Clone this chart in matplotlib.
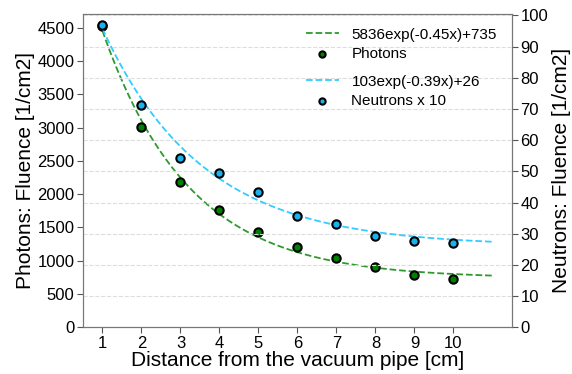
import numpy as np
import matplotlib.pyplot as plt

plt.rcParams['font.family'] = ['Liberation Sans', 'DejaVu Sans']

# --- Data ---
distance = [1, 2, 3, 4, 5, 6, 7, 8, 9, 10]
photons = [4530, 3010, 2190, 1760, 1425, 1200, 1040, 910, 780, 720]
neutrons_x10 = [97.0, 71.2, 54.3, 49.6, 43.4, 35.7, 33.2, 29.3, 27.7, 27.0]

# fit coefficients as printed in the legend: a*exp(-b*x)+c
ph_fit = (5836, 0.45, 735)
ne_fit = (103, 0.39, 26)

xs = np.linspace(1, 11, 200)
ph_curve = ph_fit[0] * np.exp(-ph_fit[1] * xs) + ph_fit[2]
ne_curve = ne_fit[0] * np.exp(-ne_fit[1] * xs) + ne_fit[2]

fig, ax1 = plt.subplots(figsize=(5.72, 3.74), dpi=100)
ax2 = ax1.twinx()

l1, = ax1.plot(xs, ph_curve, ls="--", color="#2e9a2e", lw=1.3,
               label="5836exp(-0.45x)+735")
s1 = ax1.scatter(distance, photons, s=36, color="green", edgecolor="black",
                 linewidth=1.5, zorder=3, label="Photons")
l2, = ax2.plot(xs, ne_curve, ls="--", color="#33ccff", lw=1.3,
               label="103exp(-0.39x)+26")
s2 = ax2.scatter(distance, neutrons_x10, s=36, color="#1ab2ee", edgecolor="black",
                 linewidth=1.5, zorder=3, label="Neutrons x 10")

ax1.set_xlim(0.5, 11.5)
ax1.set_ylim(0, 4710)
ax2.set_ylim(0, 100.5)
ax1.set_xticks(distance)
ax1.set_yticks(np.arange(0, 4501, 500))
ax2.set_yticks(np.arange(0, 101, 10))
ax2.grid(axis="y", ls="--", color="#dddddd", lw=0.8)

ax1.set_xlabel("Distance from the vacuum pipe [cm]", fontsize=15, labelpad=0)
ax1.set_ylabel("Photons: Fluence [1/cm2]", fontsize=15, labelpad=2)
ax2.set_ylabel("Neutrons: Fluence [1/cm2]", fontsize=15, labelpad=3)

for ax in (ax1, ax2):
    ax.tick_params(labelsize=12, color="#555555", length=4, pad=2)
    for sp in ax.spines.values():
        sp.set_color("#777777")

leg_kw = dict(loc="upper left", frameon=False, fontsize=11, markerscale=0.75,
              handlelength=2.2, labelspacing=0.35)
leg1 = ax2.legend([l1, s1], [l1.get_label(), s1.get_label()],
                  bbox_to_anchor=(0.487, 1.0), **leg_kw)
ax2.add_artist(leg1)
ax2.legend([l2, s2], [l2.get_label(), s2.get_label()],
           bbox_to_anchor=(0.487, 0.85), **leg_kw)

fig.subplots_adjust(left=0.145, right=0.895, top=0.963, bottom=0.125)
fig.savefig("out.png", dpi=100)
